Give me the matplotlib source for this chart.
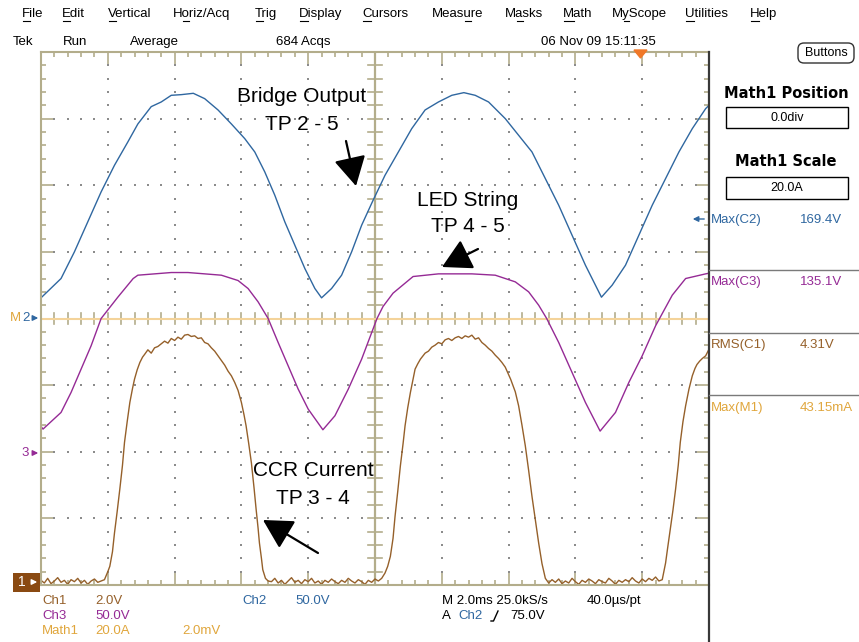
import numpy as np
import matplotlib
matplotlib.use('Agg')
import matplotlib.pyplot as plt
from matplotlib.patches import Rectangle, FancyBboxPatch, Polygon

plt.rcParams['font.family'] = ['Liberation Sans', 'DejaVu Sans']

# 数据：屏幕坐标，单位为格（x: 0..10 格, 2 ms/格; y: -4..4 格）
ch2_t = [0.00, 0.30, 0.50, 0.70, 0.90, 1.10, 1.30, 1.45, 1.65, 1.80, 1.95, 2.10, 2.28, 2.45,
         2.65, 2.85, 3.05, 3.20, 3.35, 3.50, 3.65, 3.80, 3.95, 4.10, 4.20, 4.35, 4.50, 4.65,
         4.80, 4.96, 5.15, 5.35, 5.55, 5.75, 5.95, 6.15, 6.33, 6.50, 6.70, 6.95, 7.15, 7.35,
         7.55, 7.75, 7.95, 8.15, 8.30, 8.39, 8.55, 8.75, 8.95, 9.15, 9.35, 9.55, 9.75, 9.95, 10.0]
ch2_v = [0.31, 0.60, 1.00, 1.45, 1.90, 2.30, 2.65, 2.92, 3.18, 3.25, 3.35, 3.36, 3.38, 3.30,
         3.13, 2.92, 2.70, 2.50, 2.20, 1.85, 1.45, 1.10, 0.75, 0.45, 0.31, 0.45, 0.65, 1.00,
         1.40, 1.75, 2.15, 2.50, 2.85, 3.13, 3.25, 3.35, 3.39, 3.35, 3.25, 3.00, 2.75, 2.50,
         2.10, 1.70, 1.25, 0.80, 0.50, 0.32, 0.50, 0.80, 1.25, 1.70, 2.10, 2.50, 2.85, 3.15, 3.20]

ch3_t = [0.00, 0.03, 0.30, 0.45, 0.60, 0.75, 0.90, 1.15, 1.38, 1.45, 1.95, 2.20, 2.70, 2.95,
         3.10, 3.25, 3.40, 3.55, 3.70, 3.85, 4.00, 4.22, 4.40, 4.60, 4.80, 5.03, 5.12, 5.27,
         5.57, 5.95, 6.45, 6.80, 7.10, 7.30, 7.45, 7.57, 7.75, 7.95, 8.15, 8.37, 8.60, 8.80,
         9.00, 9.20, 9.45, 9.65, 9.95, 10.0]
ch3_v = [-1.62, -1.66, -1.41, -1.11, -0.76, -0.41, 0.00, 0.32, 0.60, 0.65, 0.69, 0.69, 0.65, 0.57,
         0.45, 0.25, 0.00, -0.36, -0.71, -1.06, -1.36, -1.67, -1.46, -1.06, -0.61, 0.00, 0.18, 0.38,
         0.63, 0.67, 0.67, 0.65, 0.55, 0.40, 0.20, 0.00, -0.36, -0.81, -1.26, -1.69, -1.41, -0.96,
         -0.56, -0.11, 0.35, 0.60, 0.67, 0.68]

ch1_t = [0.00, 0.05, 0.10, 0.15, 0.20, 0.25, 0.30, 0.35, 0.40, 0.45, 0.50, 0.55, 0.60, 0.65,
         0.70, 0.75, 0.80, 0.85, 0.90,
         0.95, 1.00, 1.03, 1.07, 1.10, 1.14, 1.18, 1.22, 1.25, 1.29, 1.33, 1.37, 1.40, 1.44,
         1.48, 1.52,
         1.55, 1.60, 1.65, 1.70, 1.75, 1.80, 1.85, 1.90, 1.95, 2.00, 2.05, 2.10, 2.15, 2.20,
         2.25, 2.30, 2.35, 2.40, 2.45, 2.50, 2.55, 2.60, 2.65, 2.70, 2.75, 2.80, 2.85, 2.90, 2.95,
         3.00, 3.04, 3.07, 3.11, 3.15, 3.19, 3.22, 3.25, 3.27, 3.30, 3.32, 3.36, 3.40,
         3.45, 3.50, 3.55, 3.60, 3.65, 3.70, 3.75, 3.80, 3.85, 3.90, 3.95, 4.00, 4.05, 4.10,
         4.15, 4.20, 4.25, 4.30, 4.35, 4.40, 4.45, 4.50, 4.55, 4.60, 4.65, 4.70, 4.75, 4.80,
         4.85, 4.90, 4.95, 5.00, 5.05,
         5.10, 5.15, 5.19, 5.23, 5.27, 5.30, 5.34, 5.38, 5.42, 5.45, 5.49, 5.53, 5.57, 5.60, 5.64,
         5.68, 5.75, 5.80, 5.85, 5.90, 5.95, 6.00, 6.05, 6.10, 6.15, 6.20, 6.25, 6.30, 6.35,
         6.40, 6.45, 6.50, 6.55, 6.60, 6.65, 6.70, 6.75, 6.80, 6.85, 6.90, 6.95, 7.00,
         7.03, 7.10, 7.15, 7.20, 7.25, 7.30, 7.35, 7.40, 7.45, 7.50, 7.55, 7.60,
         7.65, 7.70, 7.75, 7.80, 7.85, 7.90, 7.95, 8.00, 8.05, 8.10, 8.15, 8.20, 8.25, 8.30,
         8.35, 8.40, 8.45, 8.50, 8.55, 8.60, 8.65, 8.70, 8.75, 8.80, 8.85, 8.90, 8.95, 9.00,
         9.05, 9.10, 9.15, 9.20, 9.25,
         9.30, 9.35, 9.38, 9.42, 9.46, 9.50, 9.54, 9.57, 9.61, 9.65, 9.70, 9.75, 9.79, 9.82,
         9.86, 9.90, 9.95, 10.0]
ch1_v = [-3.93, -3.97, -3.90, -3.98, -3.94, -3.89, -3.96, -3.93, -3.99, -3.92, -3.95, -3.90, -3.97, -3.93,
         -3.99, -3.94, -3.91, -3.96, -3.94,
         -3.92, -3.80, -3.72, -3.50, -3.22, -2.90, -2.56, -2.20, -1.86, -1.55, -1.26, -1.05, -0.91, -0.77,
         -0.66, -0.58,
         -0.54, -0.47, -0.52, -0.44, -0.42, -0.38, -0.34, -0.37, -0.30, -0.33, -0.28, -0.31, -0.25, -0.24,
         -0.27, -0.26, -0.30, -0.29, -0.36, -0.38, -0.44, -0.49, -0.56, -0.63, -0.70, -0.79, -0.86, -0.96, -1.08,
         -1.26, -1.45, -1.61, -1.88, -2.17, -2.55, -2.86, -3.15, -3.37, -3.60, -3.77, -3.90, -3.94,
         -3.95, -3.90, -3.97, -3.93, -3.99, -3.94, -3.89, -3.96, -3.93, -3.98, -3.92, -3.95, -3.90, -3.97,
         -3.94, -3.99, -3.93, -3.96, -3.91, -3.95, -3.98, -3.93, -3.96, -3.90, -3.94, -3.97, -3.92, -3.95,
         -3.99, -3.93, -3.96, -3.91, -3.94,
         -3.90, -3.82, -3.72, -3.57, -3.30, -2.97, -2.60, -2.21, -1.88, -1.61, -1.34, -1.11, -0.91, -0.76, -0.68,
         -0.61, -0.52, -0.49, -0.43, -0.40, -0.36, -0.38, -0.32, -0.30, -0.33, -0.29, -0.27, -0.30, -0.26,
         -0.28, -0.25, -0.31, -0.29, -0.36, -0.40, -0.45, -0.49, -0.55, -0.60, -0.66, -0.73, -0.84,
         -0.91, -1.10, -1.31, -1.60, -1.91, -2.28, -2.67, -3.02, -3.37, -3.68, -3.90, -3.97,
         -3.92, -3.96, -3.91, -3.98, -3.94, -3.97, -3.90, -3.95, -3.99, -3.93, -3.96, -3.91, -3.94, -3.98,
         -3.92, -3.95, -3.97, -3.90, -3.94, -3.99, -3.93, -3.96, -3.92, -3.95, -3.89, -3.94, -3.97, -3.91,
         -3.95, -3.90, -3.93, -3.88, -3.94,
         -3.92, -3.67, -3.45, -3.17, -2.88, -2.56, -2.20, -1.86, -1.55, -1.31, -1.06, -0.86, -0.75, -0.69,
         -0.64, -0.60, -0.56, -0.46]

math1_t = [0.0, 10.0]
math1_v = [0.0, 0.0]

menu_items = ['File', 'Edit', 'Vertical', 'Horiz/Acq', 'Trig', 'Display', 'Cursors',
              'Measure', 'Masks', 'Math', 'MyScope', 'Utilities', 'Help']
menu_hot = [0, 0, 0, 1, 0, 0, 0, 4, 1, 0, 1, 0, 0]
menu_x = [22, 62, 108, 173, 255, 299, 362, 432, 505, 563, 612, 685, 750]

meas_names = ['Max(C2)', 'Max(C3)', 'RMS(C1)', 'Max(M1)']
meas_vals = ['169.4V', '135.1V', '4.31V', '43.15mA']

C_BLUE = '#2f67a0'
C_MAG = '#952a95'
C_BROWN = '#95602a'
C_GOLD = '#e0a63c'
C_KHAKI = '#b3ad8b'

W, H = 859, 642
fig = plt.figure(figsize=(W / 100, H / 100), dpi=100)
fig.patch.set_facecolor('white')

# 栅格区域
ax = fig.add_axes([41 / W, 1 - 585 / H, 668 / W, 533 / H], zorder=1)
ax.set_xlim(0, 10)
ax.set_ylim(-4, 4)
for s in ['left', 'top', 'bottom']:
    ax.spines[s].set_color(C_KHAKI)
    ax.spines[s].set_linewidth(1.5)
ax.spines['right'].set_visible(False)
ax.set_xticks(range(11))
ax.set_yticks(range(-4, 5))
ax.set_xticks(np.arange(0, 10.01, 0.2), minor=True)
ax.set_yticks(np.arange(-4, 4.01, 0.2), minor=True)
ax.tick_params(which='both', direction='in', top=True, right=True, bottom=True, left=True,
               labelbottom=False, labelleft=False, color=C_KHAKI, width=1.2)
ax.tick_params(which='major', length=9)
ax.tick_params(which='minor', length=3.5)

# 点状网格
sub = np.arange(-4, 4.01, 0.2)
subx = np.arange(0, 10.01, 0.2)
for xi in [1, 2, 3, 4, 6, 7, 8, 9]:
    ax.plot(np.full(len(sub), xi), sub, ls='none', marker='s', ms=1.7, color='#8c8c8c', mew=0)
for yi in [-3, -2, -1, 1, 2, 3]:
    ax.plot(subx, np.full(len(subx), yi), ls='none', marker='s', ms=1.7, color='#8c8c8c', mew=0)

# 中心十字
ax.axvline(5, color=C_KHAKI, lw=1.6)
for yy in sub:
    ax.plot([4.9, 5.1], [yy, yy], color=C_KHAKI, lw=1.2)
for xx in subx:
    ax.plot([xx, xx], [-0.09, 0.09], color=C_KHAKI, lw=1.2)

# 波形
ax.plot(math1_t, math1_v, color='#f4d39a', lw=1.5)
ax.plot(ch2_t, ch2_v, color=C_BLUE, lw=1.0)
ax.plot(ch3_t, ch3_v, color=C_MAG, lw=1.0)
ax.plot(ch1_t, ch1_v, color=C_BROWN, lw=1.0)

# 像素坐标覆盖层
ov = fig.add_axes([0, 0, 1, 1], zorder=5)
ov.set_xlim(0, W)
ov.set_ylim(H, 0)
ov.axis('off')
ov.patch.set_alpha(0)

r = fig.canvas.get_renderer()
for lab, hot, x in zip(menu_items, menu_hot, menu_x):
    ov.text(x, 14, lab, fontsize=9.5, ha='left', va='center')
    w0 = 0
    if hot > 0:
        t0 = ov.text(x, 14, lab[:hot], fontsize=9.5, ha='left', va='center')
        w0 = t0.get_window_extent(r).width
        t0.remove()
    t1 = ov.text(x, 14, lab[:hot + 1], fontsize=9.5, ha='left', va='center')
    w1 = t1.get_window_extent(r).width
    t1.remove()
    ov.plot([x + w0 + 0.5, x + w1 - 0.5], [21, 21], color='k', lw=0.8)

for lab, x in zip(['Tek', 'Run', 'Average', '684 Acqs', '06 Nov 09 15:11:35'], [13, 63, 130, 276, 541]):
    ov.text(x, 42, lab, fontsize=9.5, ha='left', va='center')

# 触发位置标记
ov.add_patch(Polygon([(634, 50), (647, 50), (640.5, 58)], closed=True, color='#f07828'))

# 右侧面板
ov.plot([709, 709], [52, 642], color='#383838', lw=1.6)
ov.add_patch(FancyBboxPatch((798, 43), 56, 20, boxstyle='round,pad=0,rounding_size=6',
                            fc='white', ec='#333333', lw=1.0))
ov.text(826, 53.5, 'Buttons', fontsize=9, ha='center', va='center')
ov.text(786, 93, 'Math1 Position', fontsize=10.5, fontweight='bold', family='DejaVu Sans',
        ha='center', va='center')
ov.add_patch(Rectangle((726, 107), 122, 21, fc='white', ec='k', lw=1.0))
ov.text(787, 118, '0.0div', fontsize=9, ha='center', va='center')
ov.text(786, 162, 'Math1 Scale', fontsize=10.5, fontweight='bold', family='DejaVu Sans',
        ha='center', va='center')
ov.add_patch(Rectangle((726, 177), 122, 22, fc='white', ec='k', lw=1.0))
ov.text(787, 188, '20.0A', fontsize=9, ha='center', va='center')

meas_cols = [C_BLUE, C_MAG, C_BROWN, C_GOLD]
meas_y = [220, 282, 345, 408]
for name, val, col, yy in zip(meas_names, meas_vals, meas_cols, meas_y):
    ov.text(711, yy, name, fontsize=9.5, color=col, ha='left', va='center')
    ov.text(800, yy, val, fontsize=9.5, color=col, ha='left', va='center')
for yy in [270, 333, 395]:
    ov.plot([709, 859], [yy, yy], color='#7a7a7a', lw=1.0)

# 右侧蓝色箭头
ov.annotate('', xy=(690, 219), xytext=(707, 219),
            arrowprops=dict(arrowstyle='-|>', color=C_BLUE, lw=1.0, mutation_scale=8))

# 左侧通道标记
ov.text(10, 318, 'M', fontsize=9.5, color=C_GOLD, ha='left', va='center')
ov.text(22, 318, '2', fontsize=9.5, color=C_BLUE, ha='left', va='center')
ov.annotate('', xy=(41, 318), xytext=(31, 318),
            arrowprops=dict(arrowstyle='-|>', color=C_BLUE, lw=1.0, mutation_scale=8))
ov.text(21, 453, '3', fontsize=9.5, color=C_MAG, ha='left', va='center')
ov.annotate('', xy=(41, 453), xytext=(30, 453),
            arrowprops=dict(arrowstyle='-|>', color=C_MAG, lw=1.0, mutation_scale=8))
ov.add_patch(Rectangle((13, 573), 27, 19, fc='#8a4a12', ec='none'))
ov.text(22, 582.5, '1', fontsize=10, color='white', ha='center', va='center')
ov.annotate('', xy=(40, 582), xytext=(29, 582),
            arrowprops=dict(arrowstyle='-|>', color='white', lw=1.0, mutation_scale=8))

# 标注文字和箭头
ov.text(302, 97, 'Bridge Output', fontsize=15, ha='center', va='center')
ov.text(302, 125, 'TP 2 - 5', fontsize=15, ha='center', va='center')
ov.text(468, 200, 'LED String', fontsize=15, ha='center', va='center')
ov.text(468, 227, 'TP 4 - 5', fontsize=15, ha='center', va='center')
ov.text(313, 471, 'CCR Current', fontsize=15, ha='center', va='center')
ov.text(313, 498, 'TP 3 - 4', fontsize=15, ha='center', va='center')
arw = dict(arrowstyle='-|>,head_length=1.0,head_width=0.55', color='k', lw=1.6,
           mutation_scale=18, shrinkA=0, shrinkB=0)
ov.annotate('', xy=(356, 186), xytext=(346, 141), arrowprops=arw)
ov.annotate('', xy=(442, 267), xytext=(478, 249), arrowprops=arw)
ov.annotate('', xy=(263, 520), xytext=(318, 553), arrowprops=arw)

# 底部状态栏
bot = [
    (42, 601, 'Ch1', C_BROWN), (95, 601, '2.0V', C_BROWN),
    (242, 601, 'Ch2', C_BLUE), (295, 601, '50.0V', C_BLUE),
    (42, 616, 'Ch3', C_MAG), (95, 616, '50.0V', C_MAG),
    (42, 631, 'Math1', C_GOLD), (95, 631, '20.0A', C_GOLD), (182, 631, '2.0mV', C_GOLD),
    (442, 601, 'M 2.0ms 25.0kS/s', 'k'), (587, 601, '40.0µs/pt', 'k'),
    (442, 616, 'A', 'k'), (458, 616, 'Ch2', C_BLUE), (510, 616, '75.0V', 'k'),
]
for x, y, s, c in bot:
    ov.text(x, y, s, fontsize=9.5, color=c, ha='left', va='center')
ov.plot([491, 493.5, 498], [621, 621, 611], color='k', lw=1.0)

fig.savefig('out.png', dpi=100)
